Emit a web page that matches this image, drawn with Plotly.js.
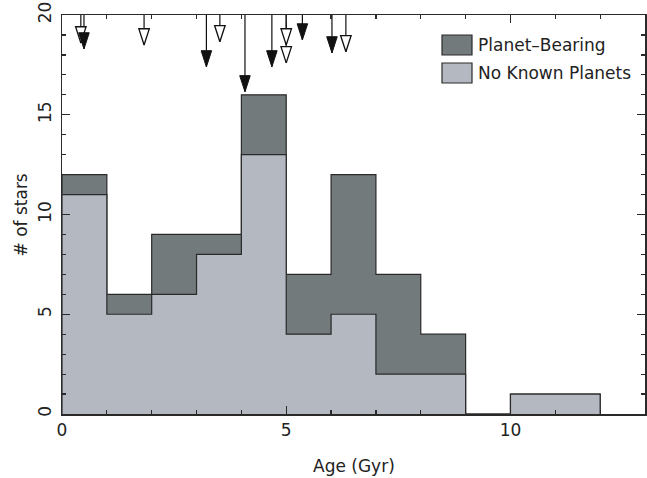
<!DOCTYPE html>
<html>
<head>
<meta charset="utf-8">
<script src="https://cdn.plot.ly/plotly-3.0.1.min.js"></script>
<style>html,body{margin:0;padding:0;background:#fff;}#chart{width:647px;height:478px;}</style>
</head>
<body>
<div id="chart"></div>
<script>
// Age bins (Gyr), bin edges
const binEdges = [0, 1, 2, 3, 4, 5, 6, 7, 8, 9, 10, 11, 12];
// Counts per bin
const noPlanetCounts = [11, 5, 6, 8, 13, 4, 5, 2, 2, 0, 1, 1];
const planetCounts   = [1, 1, 3, 1, 3, 3, 7, 5, 2, 0, 0, 0];

// Arrow markers at top (individual planet-host ages)
const filledArrowAges = [0.49, 3.22, 4.08, 4.68, 5.36, 6.02];
const filledArrowTips = [18.3, 17.4, 16.15, 17.4, 18.75, 18.1];
const openArrowAges = [0.42, 1.83, 3.52, 5.0, 5.0, 6.33];
const openArrowTips = [18.6, 18.5, 18.66, 18.5, 17.6, 18.16];
const arrowTop = 20;

const totalCounts = noPlanetCounts.map((v, i) => v + planetCounts[i]);

function stepXY(counts) {
  return {
    x: [binEdges[0]].concat(binEdges),
    y: [0].concat(counts).concat([0])
  };
}
function segXY(ages, tips) {
  const x = [], y = [];
  ages.forEach((a, i) => { x.push(a, a, null); y.push(arrowTop, tips[i], null); });
  return {x, y};
}

const darkFill = '#737a7c';
const lightFill = '#b4b9c1';
const lineCol = '#2a2a2a';

const tot = stepXY(totalCounts);
const nop = stepXY(noPlanetCounts);
const fSeg = segXY(filledArrowAges, filledArrowTips);
const oSeg = segXY(openArrowAges, openArrowTips);

const traces = [
  {x: tot.x, y: tot.y, type: 'scatter', mode: 'lines', line: {shape: 'hv', color: lineCol, width: 1.2},
   fill: 'tozeroy', fillcolor: darkFill, name: 'Planet-Bearing', showlegend: false, hoverinfo: 'skip'},
  {x: nop.x, y: nop.y, type: 'scatter', mode: 'lines', line: {shape: 'hv', color: lineCol, width: 1.2},
   fill: 'tozeroy', fillcolor: lightFill, name: 'No Known Planets', showlegend: false, hoverinfo: 'skip'},
  {x: fSeg.x, y: fSeg.y, type: 'scatter', mode: 'lines', line: {color: '#111', width: 1.2},
   showlegend: false, hoverinfo: 'skip', cliponaxis: false},
  {x: oSeg.x, y: oSeg.y, type: 'scatter', mode: 'lines', line: {color: '#111', width: 1.2},
   showlegend: false, hoverinfo: 'skip', cliponaxis: false},
  {x: openArrowAges, y: openArrowTips, type: 'scatter', mode: 'markers',
   marker: {symbol: 'arrow', angle: 180, size: 17, color: '#ffffff', line: {color: '#111', width: 1.3}},
   showlegend: false, hoverinfo: 'skip', cliponaxis: false},
  {x: filledArrowAges, y: filledArrowTips, type: 'scatter', mode: 'markers',
   marker: {symbol: 'arrow', angle: 180, size: 17, color: '#111', line: {color: '#111', width: 1}},
   showlegend: false, hoverinfo: 'skip', cliponaxis: false}
];

const font = {family: 'DejaVu Sans, sans-serif', size: 17, color: '#222'};
const L = 62, R = 645, T = 15, B = 414;
const px = v => (v - L) / (R - L);
const py = v => (B - v) / (B - T);

const layout = {
  width: 647, height: 478,
  margin: {l: 62, r: 2, t: 15, b: 64},
  paper_bgcolor: '#fff', plot_bgcolor: '#fff',
  font: font,
  showlegend: false,
  xaxis: {
    range: [0, 13], tickvals: [0, 5, 10], ticks: 'inside', ticklen: 8, tickcolor: lineCol, tickwidth: 1.2,
    minor: {dtick: 1, ticks: 'inside', ticklen: 4, tickcolor: lineCol, tickwidth: 1.2},
    showline: true, linecolor: lineCol, linewidth: 1.5, mirror: 'ticks', showgrid: false, zeroline: false,
    tickfont: font, ticklabelstandoff: 0
  },
  yaxis: {
    range: [0, 20], tickvals: [0, 5, 10, 15, 20], ticks: 'inside', ticklen: 8, tickcolor: lineCol, tickwidth: 1.2,
    minor: {dtick: 1, ticks: 'inside', ticklen: 4, tickcolor: lineCol, tickwidth: 1.2},
    showline: true, linecolor: lineCol, linewidth: 1.5, mirror: 'ticks', showgrid: false, zeroline: false,
    tickangle: -90, tickfont: font, ticklabelstandoff: 3
  },
  shapes: [
    {type: 'rect', xref: 'paper', yref: 'paper', x0: px(442), x1: px(472), y0: py(55), y1: py(35),
     fillcolor: darkFill, line: {color: lineCol, width: 1.2}},
    {type: 'rect', xref: 'paper', yref: 'paper', x0: px(442), x1: px(472), y0: py(83), y1: py(63),
     fillcolor: lightFill, line: {color: lineCol, width: 1.2}}
  ],
  annotations: [
    {xref: 'paper', yref: 'paper', x: px(476), y: py(45), text: 'Planet\u2013Bearing', showarrow: false,
     xanchor: 'left', yanchor: 'middle', font: font},
    {xref: 'paper', yref: 'paper', x: px(476), y: py(73), text: 'No Known Planets', showarrow: false,
     xanchor: 'left', yanchor: 'middle', font: font},
    {xref: 'paper', yref: 'paper', x: px(353.5), y: py(466), text: 'Age (Gyr)', showarrow: false,
     xanchor: 'center', yanchor: 'middle', font: font},
    {xref: 'paper', yref: 'paper', x: px(20), y: py(214.5), text: '# of stars', showarrow: false, textangle: -90,
     xanchor: 'center', yanchor: 'middle', font: font}
  ]
};

Plotly.newPlot('chart', traces, layout, {displayModeBar: false, staticPlot: true});
</script>
</body>
</html>
